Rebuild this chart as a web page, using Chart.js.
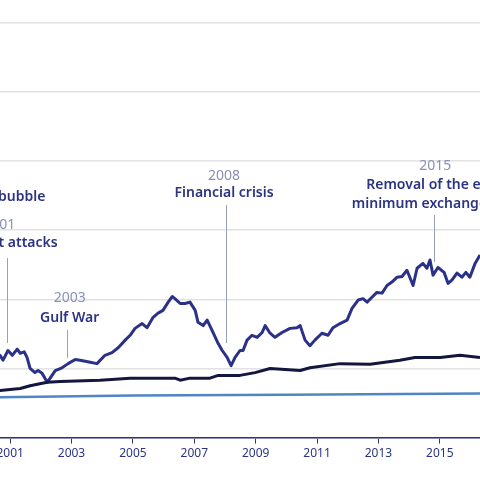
<!DOCTYPE html>
<html><head><meta charset="utf-8">
<script src="https://cdn.jsdelivr.net/npm/chart.js@4"></script>
<style>html,body{margin:0;padding:0;background:#fff}#w{width:480px;height:480px}</style>
</head><body><div id="w"><canvas id="c"></canvas></div>
<script>
const yearsA=[2000.35,2000.67,2000.77,2000.93,2001.07,2001.23,2001.33,2001.46,2001.55,2001.65,2001.81,2001.91,2002.04,2002.21,2002.47,2002.69,2002.89,2003.12,2003.28,2003.61,2003.83,2004.09,2004.32,2004.52,2004.75,2004.91,2005.07,2005.30,2005.46,2005.66,2005.82,2005.98,2006.15,2006.28,2006.37,2006.54,2006.70,2006.86,2007.03,2007.12,2007.29,2007.42,2007.58,2007.78,2007.91,2008.07,2008.20,2008.33,2008.49,2008.59,2008.72,2008.88,2009.05,2009.21,2009.31,2009.47,2009.63,2009.86,2010.12,2010.35,2010.45,2010.61,2010.77,2010.93,2011.16,2011.36,2011.52,2011.75,2011.98,2012.14,2012.34,2012.50,2012.63,2012.79,2012.95,2013.12,2013.28,2013.44,2013.61,2013.77,2013.93,2014.13,2014.26,2014.45,2014.58,2014.68,2014.78,2014.94,2015.14,2015.27,2015.40,2015.56,2015.72,2015.85,2015.98,2016.15,2016.31,2016.64];
const valuesA=[123,119,112,126,119,128,122,124,116,100,94,97,93,80,97,101,107,113,112,109,107,119,123,130,141,148,158,165,159,174,180,184,196,204,201,194,194,196,184,167,162,170,155,136,126,116,104,116,126,126,141,148,145,152,162,151,145,152,158,159,162,141,133,141,151,148,159,165,170,187,199,201,196,203,210,209,220,225,232,233,242,220,245,252,245,257,235,246,239,223,228,238,232,239,232,252,264,278];
const yearsB=[2000.35,2000.67,2001.33,2001.65,2002.21,2002.63,2003.93,2004.91,2006.37,2006.54,2006.86,2007.51,2007.78,2008.49,2008.98,2009.47,2010.45,2010.77,2011.75,2012.73,2013.70,2014.19,2015.01,2015.66,2016.31,2016.64];
const valuesB=[67,68,71,75,80,81,83,86,86,83,86,86,90,90,94,100,97,101,107,106,112,116,116,119,116,119];
const yearsC=[2000.35,2005,2010,2016.64];
const valuesC=[58,61,62,64];
const tickYears=[2001,2003,2005,2007,2009,2011,2013,2015];
const notes=[
 {year:null,title:['Dot-com bubble'],x:2002.15,align:'right',titleY:197},
 {year:'2001',yearX:2001.17,title:['Terrorist attacks'],x:2002.55,align:'right',titleY:243,yearY:225,lineX:2000.9,l1:258,l2:343},
 {year:'2003',title:['Gulf War'],x:2002.94,align:'center',titleY:318,yearY:298,lineX:2002.86,l1:330,l2:358},
 {year:'2008',title:['Financial crisis'],x:2007.97,align:'center',titleY:193,yearY:176,lineX:2008.03,l1:205,l2:343},
 {year:'2015',title:['Removal of the euro','minimum exchange rate'],x:2014.85,align:'center',titleY:185,yearY:166,lineX:2014.8,l1:215,l2:262}
];
const pts=(xs,ys)=>xs.map((x,i)=>({x,y:ys[i]}));
const notePlugin={id:'notes',afterDatasetsDraw(ch){
 const c=ch.ctx,xs=ch.scales.x;c.save();c.textBaseline='middle';
 notes.forEach(n=>{
  const px=xs.getPixelForValue(n.x);
  if(n.year){c.font='14px "Noto Sans"';c.fillStyle='#8a8fb8';
   c.textAlign=n.yearX?'right':n.align;
   c.fillText(n.year,n.yearX?xs.getPixelForValue(n.yearX):px,n.yearY);}
  c.textAlign=n.align;
  c.font='600 14px "Noto Sans"';c.fillStyle='#2b3482';
  n.title.forEach((t,i)=>c.fillText(t,px,n.titleY+i*19));
  if(n.lineX){const lx=Math.round(xs.getPixelForValue(n.lineX))+0.5;
   c.strokeStyle='#9a9fc0';c.lineWidth=1;c.beginPath();c.moveTo(lx,n.l1);c.lineTo(lx,n.l2);c.stroke();}
 });c.restore();}};
new Chart(document.getElementById('c'),{type:'line',
 data:{datasets:[
  {data:pts(yearsC,valuesC),borderColor:'#5085c4',borderWidth:2.5},
  {data:pts(yearsB,valuesB),borderColor:'#13173d',borderWidth:3},
  {data:pts(yearsA,valuesA),borderColor:'#2b3188',borderWidth:3}
 ]},
 options:{responsive:true,maintainAspectRatio:false,animation:false,
  elements:{point:{radius:0},line:{tension:0,borderJoinStyle:'round'}},
  layout:{padding:{left:0,right:0,top:0,bottom:16}},
  plugins:{legend:{display:false},tooltip:{enabled:false}},
  scales:{
   x:{type:'linear',min:2000.67,max:2016.31,
    afterBuildTicks(a){a.ticks=tickYears.map(v=>({value:v}));},
    afterFit(a){a.paddingLeft=0;a.paddingRight=0;},
    ticks:{color:'#2b3482',font:{family:'"Noto Sans"',size:12},padding:3,callback:v=>String(v),maxRotation:0,autoSkip:false},
    grid:{drawOnChartArea:false,drawTicks:true,tickLength:6,color:'#2b3482',lineWidth:1},
    border:{color:'#2b3482',width:1.5}},
   y:{min:0,max:633,afterBuildTicks(a){a.ticks=[0,100,200,300,400,500,600].map(v=>({value:v}));},
    afterFit(a){a.width=0;},
    ticks:{display:false},grid:{color:'#e2e2e2',lineWidth:1.5,drawTicks:false},border:{display:false}}
  }}, plugins:[notePlugin]});
</script></body></html>
